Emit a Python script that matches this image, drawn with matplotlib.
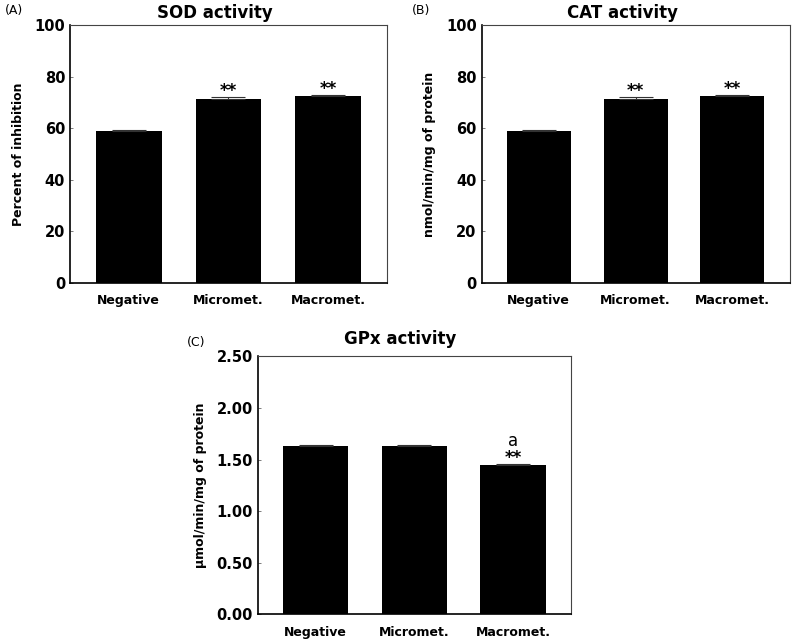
import matplotlib.pyplot as plt
import numpy as np

# group names
groups = ["Negative", "Micromet.", "Macromet."]

# SOD activity (percent of inhibition)
sod_mean = [59.0, 71.3, 72.4]
sod_err = [0.3, 0.8, 0.4]
sod_marks = ["", "**", "**"]

# CAT activity (nmol/min/mg of protein)
cat_mean = [59.0, 71.4, 72.6]
cat_err = [0.3, 0.6, 0.4]
cat_marks = ["", "**", "**"]

# GPx activity (umol/min/mg of protein)
gpx_mean = [1.63, 1.63, 1.45]
gpx_err = [0.01, 0.01, 0.012]
gpx_marks = ["", "", "**"]
gpx_extra = ["", "", "a"]

plt.rcParams['font.family'] = ['DejaVu Sans']


def draw_panel(ax, means, errs, marks, title, ylabel, yticks, ticklabels, ymax, letter,
               letter_x, extra=None, title_pad=5):
    x = np.arange(len(groups))
    ax.bar(x, means, width=0.66, color="black", zorder=2)
    ax.errorbar(x, means, yerr=[np.zeros(len(errs)), errs], fmt="none",
                ecolor="#333333", elinewidth=0.8, capsize=12, capthick=0.8, zorder=3)
    ax.set_xlim(-0.59, 2.59)
    ax.set_ylim(0, ymax)
    ax.set_yticks(yticks)
    ax.set_yticklabels(ticklabels, fontsize=10.5, fontweight="bold")
    ax.set_xticks(x)
    ax.set_xticklabels(groups, fontsize=9, fontweight="bold")
    ax.tick_params(axis="x", length=0, pad=8)
    ax.tick_params(axis="y", direction="in", length=2.5, width=0.6, color="#666666", pad=3.5)
    for s in ["left", "bottom"]:
        ax.spines[s].set_linewidth(1.2)
    for s in ["top", "right"]:
        ax.spines[s].set_linewidth(0.8)
        ax.spines[s].set_color("#444444")
    ax.set_title(title, fontsize=12, fontweight="bold", pad=title_pad, x=0.456)
    ax.set_ylabel(ylabel, fontsize=9, fontweight="bold", labelpad=7)
    ax.text(letter_x, 1.03, letter, transform=ax.transAxes, fontsize=9, ha="left", va="bottom")
    for i, m in enumerate(marks):
        if m:
            ax.annotate(m, (x[i], means[i] + errs[i]), xytext=(0, 0.5),
                        textcoords="offset points", ha="center", va="baseline",
                        fontsize=12, fontweight="bold")
    if extra:
        for i, e in enumerate(extra):
            if e:
                ax.annotate(e, (x[i], means[i] + errs[i]), xytext=(0, 12.5),
                            textcoords="offset points", ha="center", va="baseline",
                            fontsize=12)


fig = plt.figure(figsize=(8, 6.4), dpi=100)
ax1 = fig.add_axes([0.0875, 0.558, 0.396, 0.403])
ax2 = fig.add_axes([0.602, 0.558, 0.385, 0.403])
ax3 = fig.add_axes([0.322, 0.040, 0.392, 0.403])

draw_panel(ax1, sod_mean, sod_err, sod_marks, "SOD activity", "Percent of inhibition",
           [0, 20, 40, 60, 80, 100], ["0", "20", "40", "60", "80", "100"], 100, "(A)", -0.205)
draw_panel(ax2, cat_mean, cat_err, cat_marks, "CAT activity", "nmol/min/mg of protein",
           [0, 20, 40, 60, 80, 100], ["0", "20", "40", "60", "80", "100"], 100, "(B)", -0.227)
draw_panel(ax3, gpx_mean, gpx_err, gpx_marks, "GPx activity", "µmol/min/mg of protein",
           [0, 0.5, 1.0, 1.5, 2.0, 2.5], ["0.00", "0.50", "1.00", "1.50", "2.00", "2.50"], 2.5,
           "(C)", -0.225, extra=gpx_extra, title_pad=9)

fig.savefig("out.png", dpi=100)
